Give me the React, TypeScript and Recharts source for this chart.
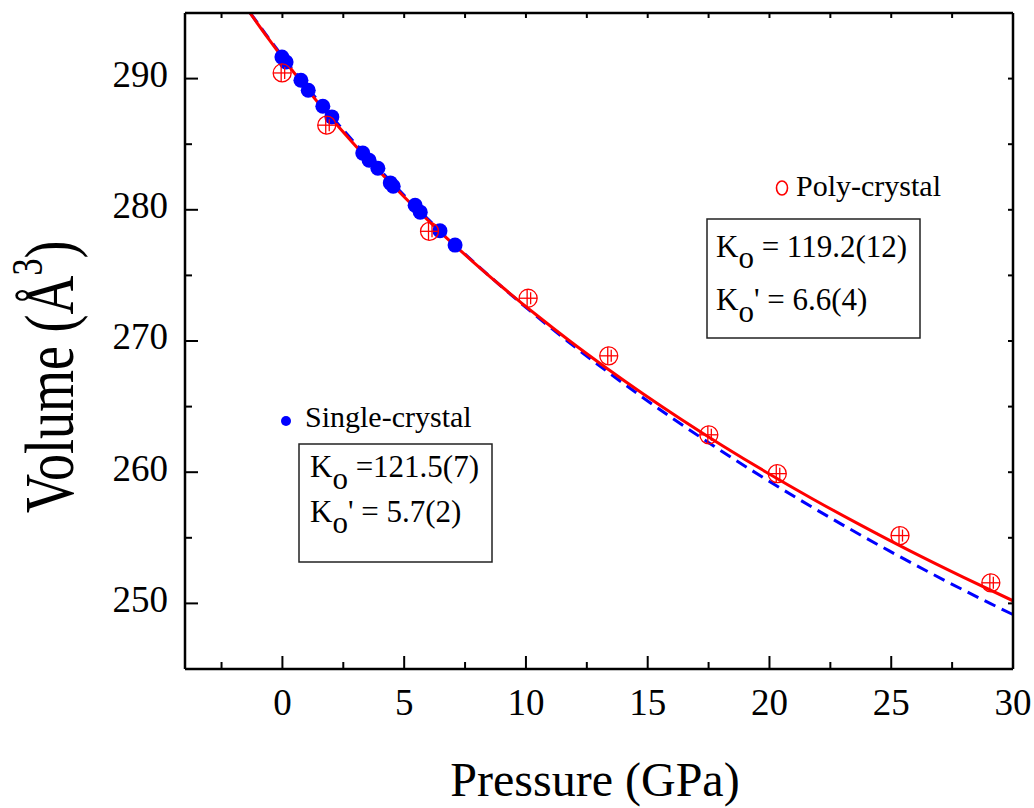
import { ComposedChart, XAxis, YAxis, Line, Scatter } from 'recharts';

const FONT = '"Liberation Serif", "Times New Roman", serif';

// single-crystal data (GPa, Å^3)
const singlePressure = [-0.02, 0.15, 0.76, 1.06, 1.66, 2.03, 3.3, 3.56, 3.92, 4.43, 4.55, 5.45, 5.66, 6.47, 7.09];
const singleVolume = [291.64, 291.26, 289.87, 289.11, 287.89, 287.08, 284.32, 283.78, 283.17, 282.05, 281.8, 280.35, 279.82, 278.4, 277.31];

// poly-crystal data
const polyPressure = [-0.01, 1.82, 6.04, 10.09, 13.4, 17.51, 20.32, 25.36, 29.09];
const polyVolume = [290.43, 286.45, 278.36, 273.26, 268.87, 262.85, 259.89, 255.17, 251.57];

// fitted EOS curves
const polyFitPressure = [-1.33, -0.56, 0, 0.67, 1.54, 2.46, 3.43, 4.46, 5.53, 6.66, 7.85, 9.1, 10.42, 11.8, 13.26, 14.79, 16.4, 18.09, 19.87, 21.74, 23.71, 25.77, 27.95, 30];
const polyFitVolume = [295, 293, 291.6, 290, 288, 286, 284, 282, 280, 278, 276, 274, 272, 270, 268, 266, 264, 262, 260, 258, 256, 254, 252, 250.2];

const singleFitPressure = [-1.32, 0, 0.72, 2.54, 4.53, 6.7, 9.09, 11.7, 14.57, 17.71, 21.15, 24.92, 29.06, 30];
const singleFitVolume = [295, 291.7, 290, 286, 282, 278, 274, 270, 266, 262, 258, 254, 250, 249.15];

const xTicks = [-2.5, 0, 2.5, 5, 7.5, 10, 12.5, 15, 17.5, 20, 22.5, 25, 27.5, 30];
const yTicks = [250, 255, 260, 265, 270, 275, 280, 285, 290];

const zip = (p: number[], v: number[]) => p.map((x, i) => ({ p: x, v: v[i] }));

const singleData = zip(singlePressure, singleVolume);
const polyData = zip(polyPressure, polyVolume);
const polyFit = zip(polyFitPressure, polyFitVolume);
const singleFit = zip(singleFitPressure, singleFitVolume);

type Side = 'bottom' | 'left' | 'top' | 'right';

const makeTick = (side: Side) => (props: any) => {
  const { x, y, payload } = props;
  const v = payload.value;
  const horiz = side === 'bottom' || side === 'top';
  const major = horiz ? v % 5 === 0 : v % 10 === 0;
  const len = side === 'bottom' || side === 'left' ? (major ? 13 : 7) : 5;
  let line;
  if (side === 'bottom') line = <line x1={x} y1={y} x2={x} y2={y - len} stroke="#000" strokeWidth={2} />;
  else if (side === 'top') line = <line x1={x} y1={y} x2={x} y2={y + len} stroke="#000" strokeWidth={2} />;
  else if (side === 'left') line = <line x1={x} y1={y} x2={x + len} y2={y} stroke="#000" strokeWidth={2} />;
  else line = <line x1={x} y1={y} x2={x - len} y2={y} stroke="#000" strokeWidth={2} />;
  return (
    <g>
      {line}
      {side === 'bottom' && major && (
        <text x={x} y={y + 46} textAnchor="middle" fontSize={37} fontFamily={FONT} fill="#000">{v}</text>
      )}
      {side === 'left' && major && (
        <text x={x - 17} y={y + 8.4} textAnchor="end" fontSize={37} fontFamily={FONT} fill="#000">{v}</text>
      )}
    </g>
  );
};

const PolyDot = (props: any) => {
  const { cx, cy } = props;
  return (
    <g stroke="#ff0000" strokeWidth={1.3} fill="none">
      <circle cx={cx} cy={cy} r={9} />
      <line x1={cx - 9} y1={cy} x2={cx + 9} y2={cy} />
      <line x1={cx - 1} y1={cy - 9} x2={cx - 1} y2={cy + 9} />
      <line x1={cx + 2.5} y1={cy - 6} x2={cx + 2.5} y2={cy + 6} />
    </g>
  );
};

const SingleDot = (props: any) => <circle cx={props.cx} cy={props.cy} r={7.5} fill="#0000ff" />;

const axisLine = { stroke: '#000', strokeWidth: 2.5 };

export default function App() {
  const txt = { fontFamily: FONT, fill: '#000' };
  return (
    <div style={{ position: 'absolute', left: 0, top: 0, width: 1034, height: 808, background: '#fff' }}>
      <ComposedChart width={1034} height={808} margin={{ top: 12, right: 20, left: 0, bottom: 0 }}>
        <XAxis
          dataKey="p"
          type="number"
          domain={[-4, 30]}
          allowDataOverflow
          ticks={xTicks}
          interval={0}
          height={139}
          tickSize={0}
          tickMargin={0}
          tickLine={false}
          axisLine={axisLine}
          tick={makeTick('bottom')}
        />
        <XAxis
          xAxisId="top"
          orientation="top"
          dataKey="p"
          type="number"
          domain={[-4, 30]}
          allowDataOverflow
          ticks={xTicks}
          interval={0}
          height={1}
          tickSize={0}
          tickMargin={0}
          tickLine={false}
          axisLine={axisLine}
          tick={makeTick('top')}
        />
        <YAxis
          type="number"
          domain={[245, 295]}
          allowDataOverflow
          ticks={yTicks}
          interval={0}
          width={185}
          tickSize={0}
          tickMargin={0}
          tickLine={false}
          axisLine={axisLine}
          tick={makeTick('left')}
        />
        <YAxis
          yAxisId="right"
          orientation="right"
          type="number"
          domain={[245, 295]}
          allowDataOverflow
          ticks={yTicks}
          interval={0}
          width={1}
          tickSize={0}
          tickMargin={0}
          tickLine={false}
          axisLine={axisLine}
          tick={makeTick('right')}
        />
        {/* invisible copy so the mirrored top/right axes get drawn */}
        <Line data={polyFit} dataKey="v" xAxisId="top" yAxisId="right" stroke="none" dot={false} activeDot={false} isAnimationActive={false} />
        <Scatter data={singleData} dataKey="v" shape={SingleDot} isAnimationActive={false} />
        <Line data={singleFit} dataKey="v" type="monotone" stroke="#0000ff" strokeWidth={3} strokeDasharray="12 7" dot={false} activeDot={false} isAnimationActive={false} />
        <Line data={polyFit} dataKey="v" type="monotone" stroke="#ff0000" strokeWidth={3} dot={false} activeDot={false} isAnimationActive={false} />
        <Scatter data={polyData} dataKey="v" shape={PolyDot} isAnimationActive={false} />
      </ComposedChart>

      <svg width={1034} height={808} style={{ position: 'absolute', left: 0, top: 0, pointerEvents: 'none' }}>
        {/* legend: poly-crystal */}
        <ellipse cx={782} cy={188} rx={5.5} ry={7} fill="none" stroke="#ff0000" strokeWidth={1.6} />
        <text x={796} y={196} fontSize={30} {...txt}>Poly-crystal</text>
        <rect x={707} y={219} width={213} height={119} fill="none" stroke="#222" strokeWidth={1.5} />
        <text x={716} y={256.7} fontSize={31} {...txt} style={{ whiteSpace: 'pre' }}>
          K<tspan dy={11.6}>o</tspan><tspan dy={-11.6}> = 119.2(12)</tspan>
        </text>
        <text x={716} y={310} fontSize={31} {...txt} style={{ whiteSpace: 'pre' }}>
          K<tspan dy={11.6}>o</tspan><tspan dy={-11.6}>' = 6.6(4)</tspan>
        </text>

        {/* legend: single-crystal */}
        <circle cx={286} cy={421} r={5} fill="#0000ff" />
        <text x={305} y={427} fontSize={30} {...txt}>Single-crystal</text>
        <rect x={299} y={444} width={193} height={118} fill="none" stroke="#222" strokeWidth={1.5} />
        <text x={310} y={477.3} fontSize={31} {...txt} style={{ whiteSpace: 'pre' }}>
          K<tspan dy={11.6}>o</tspan><tspan dy={-11.6}> =121.5(7)</tspan>
        </text>
        <text x={310} y={521.7} fontSize={31} {...txt} style={{ whiteSpace: 'pre' }}>
          K<tspan dy={11.6}>o</tspan><tspan dy={-11.6}>' = 5.7(2)</tspan>
        </text>

        {/* axis titles */}
        <text x={595} y={796} textAnchor="middle" fontSize={48} {...txt}>Pressure (GPa)</text>
        <text transform="translate(73,513) rotate(-90) scale(1,1.3)" fontSize={54} {...txt}>
          Volume (Å<tspan fontSize={34} dy={-24}>3</tspan><tspan dy={24}>)</tspan>
        </text>
      </svg>
    </div>
  );
}
